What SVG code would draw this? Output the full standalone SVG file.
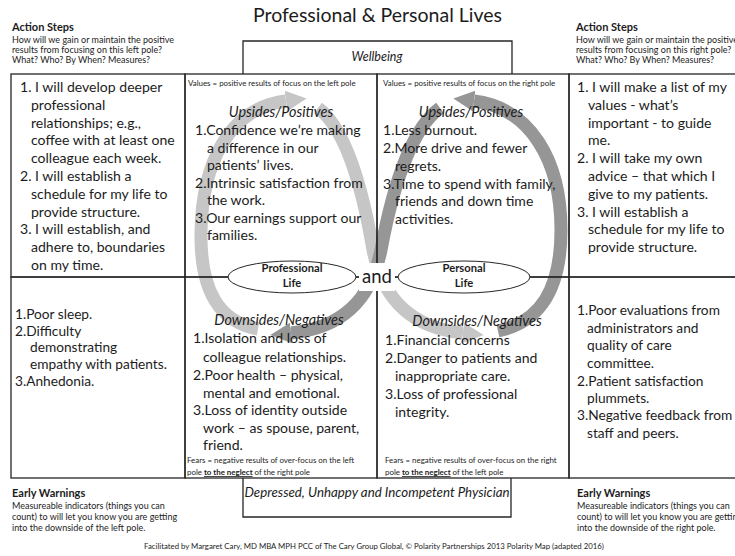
<svg xmlns="http://www.w3.org/2000/svg" width="735" height="556" viewBox="0 0 735 556">
  <style>
    .t { font-family: Lato, "Liberation Sans", sans-serif; fill: #1c1c1c; }
    .title { font-size: 19.5px; }
    .hdr { font-size: 11px; font-weight: bold; }
    .sub { font-size: 9px; }
    .body { font-size: 14.05px; }
    .low { font-size: 13.7px; }
    .head { font-size: 14.4px; font-style: italic; }
    .small { font-size: 7.9px; }
    .ell { font-size: 11.2px; font-weight: bold; }
    .pole { font-size: 12.5px; font-style: italic; }
    .pole2 { font-size: 13.3px; font-style: italic; }
    .and { font-size: 18.5px; }
    .foot { font-size: 7.8px; }
    .line { fill: none; stroke: #262626; stroke-width: 1.3; }
    .band-l { fill: none; stroke: #c6c6c6; stroke-width: 13; }
    .band-d { fill: none; stroke: #969696; stroke-width: 13; }
  </style>
  <defs>
    <marker id="headL" viewBox="0 0 10 10" refX="0" refY="5" markerWidth="1.6" markerHeight="2.4" orient="auto" markerUnits="strokeWidth">
      <path d="M0 0 L10 5 L0 10 z" fill="#c6c6c6"/>
    </marker>
    <marker id="headD" viewBox="0 0 10 10" refX="0" refY="5" markerWidth="1.6" markerHeight="2.4" orient="auto" markerUnits="strokeWidth">
      <path d="M0 0 L10 5 L0 10 z" fill="#969696"/>
    </marker>
  </defs>
  <rect width="735" height="556" fill="#ffffff"/>

  <!-- infinity loop of the polarity map, four curved arrows -->
  <g id="connectors">
    <path class="band-l" d="M258 329 C220 322 200 292 201 232 C202 165 228 108 286 101" marker-end="url(#headL)"/>
    <path class="band-l" d="M318 108 C345 128 362 185 373 250 C383 300 412 328 463 333" marker-end="url(#headL)"/>
    <path class="band-d" d="M498 331 C540 322 561 290 561 230 C561 160 530 108 474 101" marker-end="url(#headD)"/>
    <path class="band-d" d="M440 108 C412 128 393 185 381 250 C371 300 342 328 291 333" marker-end="url(#headD)"/>
  </g>

  <!-- title -->
  <text class="t title" x="377.5" y="22" text-anchor="middle">Professional &amp; Personal Lives</text>

  <!-- top pole box -->
  <g id="wellbeing">
    <polyline class="line" points="243,74 243,41 512,41 512,74"/>
    <text class="t pole" x="377" y="61" text-anchor="middle">Wellbeing</text>
  </g>

  <!-- bottom pole box -->
  <g id="physician">
    <polyline class="line" points="243,478 243,517 511,517 511,478"/>
    <text class="t pole2" x="377" y="497" text-anchor="middle">Depressed, Unhappy and Incompetent Physician</text>
  </g>

  <!-- action steps, left -->
  <g id="action-left">
    <text class="t hdr" x="12" y="31">Action Steps</text>
    <text class="t sub" x="12" y="43">How will we gain or maintain the positive</text>
    <text class="t sub" x="12" y="53">results from focusing on this left pole?</text>
    <text class="t sub" x="12" y="63">What? Who? By When? Measures?</text>
    <rect class="line" x="11" y="74" width="174" height="203"/>
    <text class="t body" x="20" y="92">1. I will develop deeper</text>
    <text class="t body" x="31" y="110">professional</text>
    <text class="t body" x="31" y="128">relationships; e.g.,</text>
    <text class="t body" x="31" y="145">coffee with at least one</text>
    <text class="t body" x="31" y="163">colleague each week.</text>
    <text class="t body" x="20" y="181">2. I will establish a</text>
    <text class="t body" x="31" y="199">schedule for my life to</text>
    <text class="t body" x="31" y="217">provide structure.</text>
    <text class="t body" x="20" y="234">3. I will establish, and</text>
    <text class="t body" x="31" y="252">adhere to, boundaries</text>
    <text class="t body" x="31" y="270">on my time.</text>
  </g>

  <!-- action steps, right -->
  <g id="action-right">
    <text class="t hdr" x="576" y="31">Action Steps</text>
    <text class="t sub" x="576" y="43">How will we gain or maintain the positive</text>
    <text class="t sub" x="576" y="53">results from focusing on this right pole?</text>
    <text class="t sub" x="576" y="63">What? Who? By When? Measures?</text>
    <rect class="line" x="569" y="74" width="175" height="203"/>
    <text class="t body" x="577" y="92">1. I will make a list of my</text>
    <text class="t body" x="588" y="110">values - what’s</text>
    <text class="t body" x="588" y="128">important - to guide</text>
    <text class="t body" x="588" y="145">me.</text>
    <text class="t body" x="577" y="163">2. I will take my own</text>
    <text class="t body" x="588" y="181">advice – that which I</text>
    <text class="t body" x="588" y="199">give to my patients.</text>
    <text class="t body" x="577" y="217">3. I will establish a</text>
    <text class="t body" x="588" y="234">schedule for my life to</text>
    <text class="t body" x="588" y="252">provide structure.</text>
  </g>

  <!-- upsides, left pole -->
  <g id="upsides-left">
    <rect class="line" x="185" y="74" width="192" height="203"/>
    <text class="t small" x="188" y="86">Values = positive results of focus on the left pole</text>
    <text class="t head" x="281" y="117" text-anchor="middle">Upsides/Positives</text>
    <text class="t body" x="195" y="135">1.Confidence we’re making</text>
    <text class="t body" x="207" y="153">a difference in our</text>
    <text class="t body" x="207" y="170">patients’ lives.</text>
    <text class="t body" x="195" y="188">2.Intrinsic satisfaction from</text>
    <text class="t body" x="207" y="205">the work.</text>
    <text class="t body" x="195" y="223">3.Our earnings support our</text>
    <text class="t body" x="207" y="240">families.</text>
  </g>

  <!-- upsides, right pole -->
  <g id="upsides-right">
    <rect class="line" x="377" y="74" width="192" height="203"/>
    <text class="t small" x="383" y="86">Values = positive results of focus on the right pole</text>
    <text class="t head" x="471" y="117" text-anchor="middle">Upsides/Positives</text>
    <text class="t body" x="383" y="135">1.Less burnout.</text>
    <text class="t body" x="383" y="153">2.More drive and fewer</text>
    <text class="t body" x="395" y="171">regrets.</text>
    <text class="t body" x="383" y="189">3.Time to spend with family,</text>
    <text class="t body" x="395" y="206">friends and down time</text>
    <text class="t body" x="395" y="224">activities.</text>
  </g>

  <!-- early warnings, left -->
  <g id="warnings-left">
    <rect class="line" x="11" y="277" width="174" height="201"/>
    <text class="t low" x="15" y="319">1.Poor sleep.</text>
    <text class="t low" x="15" y="336">2.Difficulty</text>
    <text class="t low" x="30" y="352">demonstrating</text>
    <text class="t low" x="30" y="369">empathy with patients.</text>
    <text class="t low" x="15" y="386">3.Anhedonia.</text>
    <text class="t hdr" x="12" y="497">Early Warnings</text>
    <text class="t sub" x="12" y="509">Measureable indicators (things you can</text>
    <text class="t sub" x="12" y="520">count) to will let you know you are getting</text>
    <text class="t sub" x="12" y="531">into the downside of the left pole.</text>
  </g>

  <!-- early warnings, right -->
  <g id="warnings-right">
    <rect class="line" x="569" y="277" width="175" height="201"/>
    <text class="t low" x="577" y="315">1.Poor evaluations from</text>
    <text class="t low" x="587" y="333">administrators and</text>
    <text class="t low" x="587" y="350">quality of care</text>
    <text class="t low" x="587" y="368">committee.</text>
    <text class="t low" x="577" y="386">2.Patient satisfaction</text>
    <text class="t low" x="587" y="403">plummets.</text>
    <text class="t low" x="577" y="420">3.Negative feedback from</text>
    <text class="t low" x="587" y="438">staff and peers.</text>
    <text class="t hdr" x="577" y="497">Early Warnings</text>
    <text class="t sub" x="577" y="509">Measureable indicators (things you can</text>
    <text class="t sub" x="577" y="520">count) to will let you know you are getting</text>
    <text class="t sub" x="577" y="531">into the downside of the right pole.</text>
  </g>

  <!-- downsides, left pole -->
  <g id="downsides-left">
    <rect class="line" x="185" y="277" width="192" height="201"/>
    <text class="t head" x="279" y="325" text-anchor="middle">Downsides/Negatives</text>
    <text class="t body" x="193" y="343">1.Isolation and loss of</text>
    <text class="t body" x="203" y="362">colleague relationships.</text>
    <text class="t body" x="193" y="380">2.Poor health – physical,</text>
    <text class="t body" x="203" y="398">mental and emotional.</text>
    <text class="t body" x="193" y="415">3.Loss of identity outside</text>
    <text class="t body" x="203" y="433">work – as spouse, parent,</text>
    <text class="t body" x="203" y="450">friend.</text>
    <text class="t small" x="187" y="463">Fears = negative results of over-focus on the left</text>
    <text class="t small" x="187" y="475">pole <tspan font-weight="bold" text-decoration="underline">to the neglect</tspan> of the right pole</text>
  </g>

  <!-- downsides, right pole -->
  <g id="downsides-right">
    <rect class="line" x="377" y="277" width="192" height="201"/>
    <text class="t head" x="477" y="326" text-anchor="middle">Downsides/Negatives</text>
    <text class="t body" x="385" y="345">1.Financial concerns</text>
    <text class="t body" x="385" y="363">2.Danger to patients and</text>
    <text class="t body" x="395" y="381">inappropriate care.</text>
    <text class="t body" x="385" y="399">3.Loss of professional</text>
    <text class="t body" x="395" y="417">integrity.</text>
    <text class="t small" x="385" y="463">Fears = negative results of over-focus on the right</text>
    <text class="t small" x="385" y="475">pole <tspan font-weight="bold" text-decoration="underline">to the neglect</tspan> of the left pole</text>
  </g>

  <!-- the two poles -->
  <g id="professional-life">
    <ellipse cx="292" cy="277" rx="64" ry="16" fill="#ffffff" stroke="#262626" stroke-width="1"/>
    <text class="t ell" x="292" y="272" text-anchor="middle">Professional</text>
    <text class="t ell" x="292" y="287" text-anchor="middle">Life</text>
  </g>
  <g id="and">
    <rect x="359" y="263" width="36" height="28" fill="#ffffff"/>
    <text class="t and" x="377" y="283" text-anchor="middle">and</text>
  </g>
  <g id="personal-life">
    <ellipse cx="464" cy="277" rx="66" ry="16" fill="#ffffff" stroke="#262626" stroke-width="1"/>
    <text class="t ell" x="464" y="272" text-anchor="middle">Personal</text>
    <text class="t ell" x="464" y="287" text-anchor="middle">Life</text>
  </g>

  <text class="t foot" x="374" y="549" text-anchor="middle">Facilitated by Margaret Cary, MD MBA MPH PCC of The Cary Group Global, © Polarity Partnerships 2013 Polarity Map (adapted 2016)</text>
</svg>
